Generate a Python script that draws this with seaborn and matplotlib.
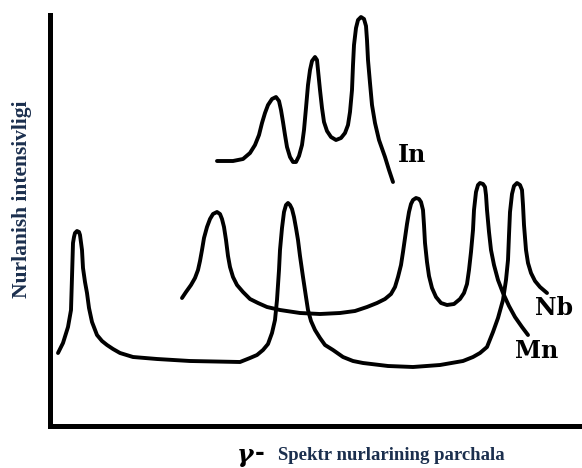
import matplotlib
matplotlib.use("Agg")
import matplotlib.pyplot as plt
import seaborn as sns
import pandas as pd

# Spectral position (x) and emission intensity (y) for each element's line profile
in_x = [168, 184, 194, 201, 206, 210, 213, 216, 219, 223, 227, 230, 232, 234, 236, 238, 241,
        244, 247, 250, 253, 255, 257, 259, 261, 263, 266, 268, 269, 271, 273, 275, 278, 282,
        287, 292, 296, 299, 301, 303, 304, 305, 307, 309, 312, 315, 317, 318, 319, 321, 323,
        326, 330, 336, 340, 344]
in_y = [264, 264, 266, 272, 280, 290, 302, 312, 320, 326, 328, 324, 315, 303, 290, 278, 268,
        263, 263, 269, 280, 295, 317, 340, 355, 364, 368, 365, 355, 335, 317, 303, 294, 288,
        285, 287, 292, 300, 313, 335, 360, 380, 397, 405, 408, 406, 399, 385, 365, 342, 320,
        302, 285, 268, 255, 243]

nb_x = [133, 137, 142, 146, 149, 151, 153, 155, 158, 161, 164, 168, 171, 173, 175, 177, 179,
        181, 184, 188, 194, 201, 209, 218, 231, 251, 271, 291, 306, 318, 328, 336, 342, 346,
        349, 352, 354, 356, 358, 360, 362, 364, 367, 370, 372, 374, 375, 376, 378, 380, 383,
        387, 392, 398, 405, 411, 415, 418, 420, 422, 424, 425, 427, 429, 431, 434, 436, 437,
        438, 440, 442, 445, 449, 454, 460, 466, 473, 479]
nb_y = [127, 133, 140, 147, 155, 164, 175, 187, 198, 206, 211, 213, 211, 206, 198, 185, 169,
        158, 148, 140, 133, 126, 122, 118, 115, 112, 111, 112, 114, 118, 122, 126, 131, 138,
        148, 160, 173, 187, 201, 213, 221, 225, 227, 226, 223, 215, 200, 182, 163, 149, 137,
        128, 122, 120, 121, 126, 132, 141, 155, 173, 195, 215, 233, 240, 242, 241, 238, 230,
        215, 193, 175, 160, 145, 132, 119, 108, 98, 90]

mn_x = [9, 14, 19, 22, 23, 24, 25, 26, 28, 30, 31, 33, 34, 36, 38, 40, 43, 48, 53, 58, 64,
        71, 84, 108, 141, 191, 201, 208, 214, 219, 223, 226, 228, 230, 231, 233, 235, 237,
        239, 241, 243, 245, 247, 249, 251, 254, 257, 259, 262, 266, 271, 276, 284, 294, 304,
        314, 339, 364, 391, 414, 424, 431, 438, 444, 449, 454, 457, 459, 460, 461, 463, 465,
        468, 471, 473, 474, 475, 477, 479, 482, 486, 491, 498]
mn_y = [72, 82, 98, 115, 148, 182, 188, 192, 194, 193, 190, 175, 157, 143, 132, 117, 103,
        90, 84, 80, 76, 72, 68, 66, 64, 63, 67, 70, 75, 81, 92, 105, 125, 155, 175, 197, 213,
        220, 222, 220, 216, 208, 197, 185, 169, 148, 128, 115, 104, 95, 87, 80, 75, 68, 64,
        62, 59, 58, 60, 64, 68, 72, 78, 93, 107, 125, 145, 165, 190, 213, 231, 239, 242, 240,
        235, 220, 200, 175, 162, 152, 144, 138, 132]

labels = ["In", "Nb", "Mn"]
label_x = [363, 505, 488]
label_y = [270, 117, 74]

W, H = 582, 468
sns.set_style("white")
fig = plt.figure(figsize=(W / 100, H / 100), dpi=100)
ax = fig.add_axes([49.5 / W, (H - 425.5) / H, (W - 49.5) / W, (425.5 - 15) / H])

line_kw = dict(color="black", linewidth=2.8, estimator=None, sort=False,
               solid_joinstyle="round", solid_capstyle="round")
for xs, ys in [(in_x, in_y), (nb_x, nb_y), (mn_x, mn_y)]:
    df = pd.DataFrame({"x": xs, "y": ys})
    sns.lineplot(data=df, x="x", y="y", ax=ax, **line_kw)

for name, lx, ly in zip(labels, label_x, label_y):
    ax.text(lx, ly, name, fontsize=17, fontweight="bold", family="DejaVu Serif",
            ha="center", va="center", color="black")

ax.set_xlim(0.5, 533)
ax.set_ylim(-0.5, 410)
ax.set_xticks([])
ax.set_yticks([])
ax.set_xlabel("")
ax.set_ylabel("")
for side in ["top", "right"]:
    ax.spines[side].set_visible(False)
for side in ["left", "bottom"]:
    ax.spines[side].set_linewidth(3.6)
    ax.spines[side].set_color("black")
    ax.spines[side].set_capstyle("projecting")

navy = "#1b2f4e"
fig.text(22 / W, 1 - 199 / H, "Nurlanish intensivligi", rotation=90,
         family="Liberation Serif", fontweight="bold", fontsize=15.5,
         color=navy, ha="center", va="center")
fig.text(237 / W, 1 - 462 / H, "\u03b3", family="DejaVu Serif", fontstyle="italic",
         fontweight="bold", fontsize=18, color="black", ha="left", va="baseline")
fig.text(255 / W, 1 - 453 / H, "-", family="DejaVu Sans", fontweight="bold",
         fontsize=17, color="black", ha="left", va="center")
fig.text(278 / W, 1 - 455 / H, "Spektr nurlarining parchala", family="Liberation Serif",
         fontweight="bold", fontsize=13.5, color=navy, ha="left", va="center")

fig.savefig("out.png", dpi=100)
